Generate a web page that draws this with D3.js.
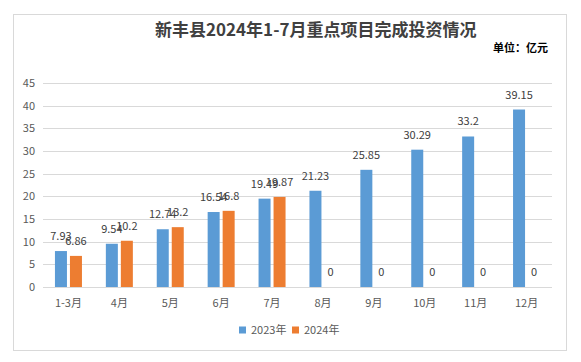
<!DOCTYPE html>
<html lang="zh">
<head>
<meta charset="UTF-8">
<title>新丰县2024年1-7月重点项目完成投资情况</title>
<style>
  body { margin: 0; background: #fff; }
  svg text { font-family: "Noto Sans CJK SC", "Noto Sans", sans-serif; fill: #595959; }
</style>
</head>
<body>
<svg width="581" height="362"></svg>
<script src="https://cdn.jsdelivr.net/npm/d3@7/dist/d3.min.js"></script>
<script>
var months = ["1-3月", "4月", "5月", "6月", "7月", "8月", "9月", "10月", "11月", "12月"];
var series = ["2023年", "2024年"];
var values2023 = [7.93, 9.54, 12.74, 16.54, 19.49, 21.23, 25.85, 30.29, 33.2, 39.15];
var values2024 = [6.86, 10.2, 13.2, 16.8, 19.87, 0, 0, 0, 0, 0];
var yTicks = [0, 5, 10, 15, 20, 25, 30, 35, 40, 45];
var colors = ["#5b9bd5", "#ed7d31"];

var svg = d3.select("svg");

// chart frame
svg.append("rect")
  .attr("x", 13.5).attr("y", 14.5)
  .attr("width", 553).attr("height", 336)
  .attr("fill", "#fff").attr("stroke", "#d9d9d9");

var plot = {left: 43, right: 552, top: 83, bottom: 287};

var x0 = d3.scaleBand().domain(months).range([plot.left, plot.right]);
var x1 = d3.scaleBand().domain(series).range([0, 27]).paddingInner(0.2);
var y = d3.scaleLinear().domain([0, 45]).range([plot.bottom, plot.top]);

// gridlines
svg.append("g")
  .selectAll("line")
  .data(yTicks)
  .enter().append("line")
  .attr("x1", plot.left).attr("x2", plot.right)
  .attr("y1", function(d) { return Math.round(y(d)) + 0.5; })
  .attr("y2", function(d) { return Math.round(y(d)) + 0.5; })
  .attr("stroke", "#d9d9d9");

// y axis labels
svg.append("g")
  .selectAll("text")
  .data(yTicks)
  .enter().append("text")
  .attr("x", 35)
  .attr("y", function(d) { return y(d); })
  .attr("dy", "0.35em")
  .attr("text-anchor", "end")
  .style("font-size", "11px")
  .text(function(d) { return d; });

// x axis labels
svg.append("g")
  .selectAll("text")
  .data(months)
  .enter().append("text")
  .attr("x", function(d) { return x0(d) + x0.bandwidth() / 2; })
  .attr("y", 303)
  .attr("dy", "0.35em")
  .attr("text-anchor", "middle")
  .style("font-size", "11px")
  .text(function(d) { return d; });

var rows = months.map(function(m, i) {
  return [
    { month: m, key: series[0], value: values2023[i], color: colors[0] },
    { month: m, key: series[1], value: values2024[i], color: colors[1] }
  ];
});
var flat = [].concat.apply([], rows);

function barX(d) {
  return x0(d.month) + x0.bandwidth() / 2 - 13.5 + x1(d.key);
}

svg.append("g")
  .selectAll("rect")
  .data(flat)
  .enter().append("rect")
  .attr("x", barX)
  .attr("y", function(d) { return y(d.value); })
  .attr("width", x1.bandwidth())
  .attr("height", function(d) { return plot.bottom - y(d.value); })
  .attr("fill", function(d) { return d.color; });

// value labels
svg.append("g")
  .selectAll("text")
  .data(flat)
  .enter().append("text")
  .attr("x", function(d) { return barX(d) + x1.bandwidth() / 2; })
  .attr("y", function(d) { return y(d.value) - 11; })
  .attr("text-anchor", "middle")
  .style("font-size", "11px")
  .style("fill", "#404040")
  .text(function(d) { return d.value; });

// title
svg.append("text")
  .attr("x", 155).attr("y", 36)
  .style("font-size", "17px")
  .style("font-weight", "bold")
  .style("fill", "#404040")
  .text("新丰县2024年1-7月重点项目完成投资情况");

svg.append("text")
  .attr("x", 548).attr("y", 52)
  .attr("text-anchor", "end")
  .style("font-size", "11px")
  .style("font-weight", "bold")
  .style("fill", "#000")
  .text("单位：亿元");

// legend
var legendX = [239, 292];
var lg = svg.append("g")
  .selectAll("g")
  .data(series)
  .enter().append("g")
  .attr("transform", function(d, i) { return "translate(" + legendX[i] + ",330)"; });
lg.append("rect")
  .attr("x", 0).attr("y", -3.5)
  .attr("width", 7).attr("height", 7)
  .attr("fill", function(d, i) { return colors[i]; });
lg.append("text")
  .attr("x", 12).attr("dy", "0.35em")
  .style("font-size", "11px")
  .text(function(d) { return d; });
</script>
</body>
</html>
